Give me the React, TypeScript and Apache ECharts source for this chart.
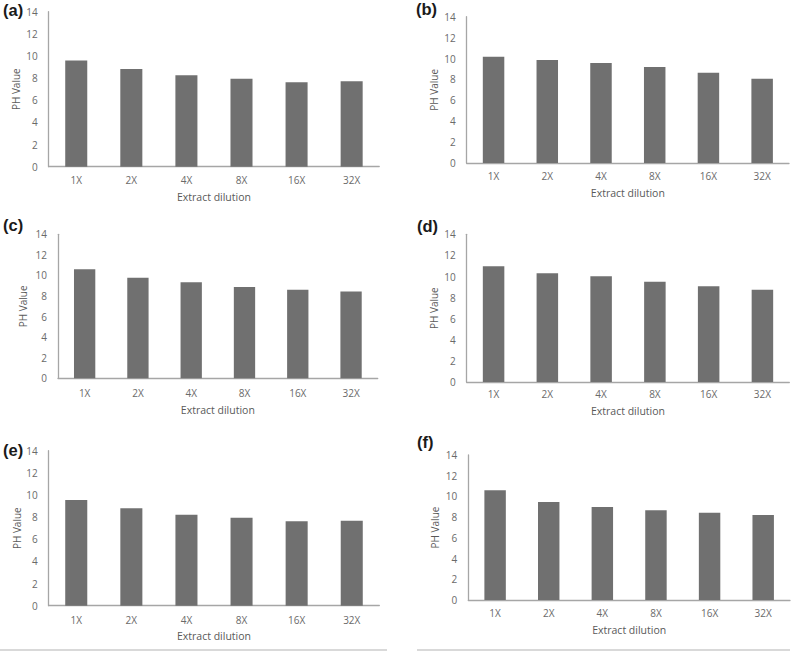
import React, { useEffect, useRef } from "react";
import * as echarts from "echarts";

const categories = ["1X", "2X", "4X", "8X", "16X", "32X"];
const yTicks = [0, 2, 4, 6, 8, 10, 12, 14];
const panelLabels = ["(a)", "(b)", "(c)", "(d)", "(e)", "(f)"];

const valuesA = [9.6, 8.83, 8.26, 7.95, 7.62, 7.71];
const valuesB = [10.17, 9.86, 9.57, 9.19, 8.64, 8.07];
const valuesC = [10.59, 9.78, 9.33, 8.87, 8.61, 8.45];
const valuesD = [10.97, 10.3, 10.02, 9.5, 9.07, 8.75];
const valuesE = [9.55, 8.8, 8.22, 7.95, 7.62, 7.68];
const valuesF = [10.59, 9.46, 8.98, 8.66, 8.43, 8.2];

const allValues = [valuesA, valuesB, valuesC, valuesD, valuesE, valuesF];

// layout per panel: grid box, label gaps, panel letter position
const layouts = [
  { left: 48.7, top: 11.7, width: 330.5, height: 155, yGap: 28, xGap: 25, lblMargin: 8.5, letter: [3, 11] },
  { left: 466.7, top: 16.7, width: 322.3, height: 146.3, yGap: 28, xGap: 24, lblMargin: 7.5, letter: [416, 10] },
  { left: 58, top: 234.3, width: 319.7, height: 144, yGap: 30, xGap: 26, lblMargin: 9.5, letter: [3, 226] },
  { left: 466.7, top: 234.3, width: 322.6, height: 147.7, yGap: 28, xGap: 23.5, lblMargin: 7, letter: [417, 226.5] },
  { left: 48.7, top: 450.7, width: 330.6, height: 155, yGap: 27, xGap: 25, lblMargin: 9, letter: [3, 450.5] },
  { left: 468.3, top: 455, width: 321.7, height: 145, yGap: 28, xGap: 24.5, lblMargin: 8, letter: [417, 443] },
];

const FONT = "'Open Sans', 'Noto Sans', sans-serif";
const TEXT = "#595959";
const TICK = "#6a6a6a";
const AXIS = "#a6a6a6";
const BAR = "#707070";

export default function App() {
  const ref = useRef<HTMLDivElement>(null);
  useEffect(() => {
    if (!ref.current) return;
    const chart = echarts.init(ref.current, undefined, { renderer: "svg" });
    const grid = layouts.map((l) => ({
      left: l.left,
      top: l.top,
      width: l.width,
      height: l.height,
      containLabel: false,
    }));
    const xAxis = layouts.map((l, i) => ({
      type: "category",
      gridIndex: i,
      data: categories,
      name: "Extract dilution",
      nameLocation: "middle",
      nameGap: l.xGap,
      nameTextStyle: { color: TEXT, fontSize: 10.5, fontFamily: FONT },
      axisLine: { show: true, lineStyle: { color: AXIS, width: 1.3 } },
      axisTick: { show: false },
      axisLabel: { color: TICK, fontSize: 10, fontFamily: FONT, margin: l.lblMargin },
    }));
    const yAxis = layouts.map((l, i) => ({
      type: "value",
      gridIndex: i,
      min: yTicks[0],
      max: yTicks[yTicks.length - 1],
      interval: yTicks[1] - yTicks[0],
      name: "PH Value",
      nameLocation: "middle",
      nameRotate: 90,
      nameGap: l.yGap,
      nameTextStyle: { color: TEXT, fontSize: 10, fontFamily: FONT },
      axisLine: { show: true, lineStyle: { color: AXIS, width: 1.3 } },
      axisTick: { show: false },
      splitLine: { show: false },
      axisLabel: { color: TICK, fontSize: 10, fontFamily: FONT, margin: 11 },
    }));
    const series = allValues.map((vals, i) => ({
      type: "bar",
      xAxisIndex: i,
      yAxisIndex: i,
      data: vals,
      barWidth: "40%",
      itemStyle: { color: BAR },
    }));
    const graphic: any[] = layouts.map((l, i) => ({
      type: "text",
      left: l.letter[0],
      top: l.letter[1] - 9.5,
      style: {
        text: panelLabels[i],
        fontSize: 16.5,
        fontWeight: "bold",
        fontFamily: "'Liberation Sans', Arial, sans-serif",
        fill: "#1a1a1a",
      },
    }));
    graphic.push(
      {
        type: "line",
        shape: { x1: 0, y1: 650, x2: 387, y2: 650 },
        style: { stroke: "#d9d9d9", lineWidth: 2 },
      },
      {
        type: "line",
        shape: { x1: 417, y1: 650, x2: 790, y2: 650 },
        style: { stroke: "#d9d9d9", lineWidth: 2 },
      }
    );
    chart.setOption({
      animation: false,
      backgroundColor: "#ffffff",
      grid,
      xAxis,
      yAxis,
      series,
      graphic,
    });
    return () => chart.dispose();
  }, []);
  return (
    <div
      ref={ref}
      style={{ position: "absolute", left: 0, top: 0, width: 800, height: 654 }}
    />
  );
}
